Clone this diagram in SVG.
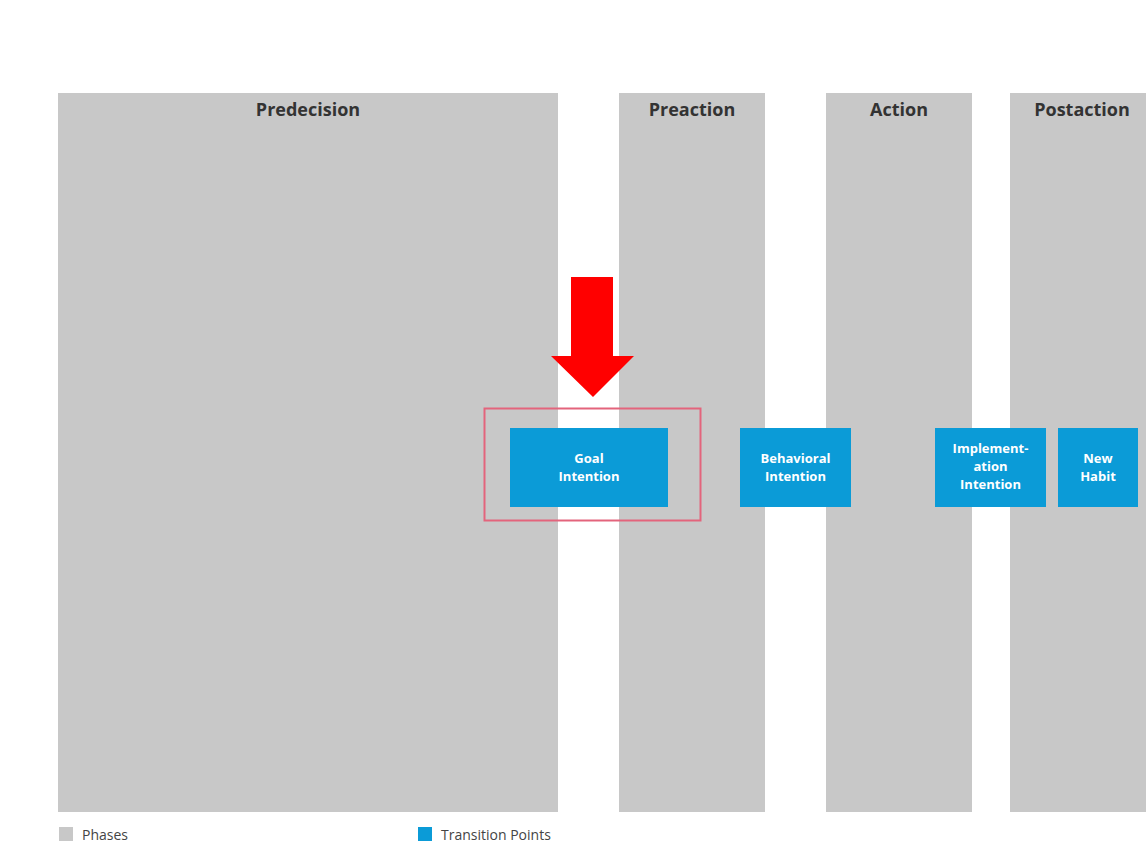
<svg xmlns="http://www.w3.org/2000/svg" width="1146" height="845" viewBox="0 0 1146 845">
<style>
.phase{fill:#c8c8c8}
.ptitle{font-family:"Open Sans","Liberation Sans",sans-serif;font-weight:bold;font-size:18px;fill:#333;text-anchor:middle}
.tp{fill:#0b9bd7}
.tpt{font-family:"Open Sans","Liberation Sans",sans-serif;font-weight:bold;font-size:13px;fill:#fff;text-anchor:middle}
.leg{font-family:"Open Sans","Liberation Sans",sans-serif;font-size:14px;fill:#444}
</style>
<rect width="1146" height="845" fill="#fff"/>
<g id="phase-predecision"><rect class="phase" x="58" y="93" width="500" height="719"/><text class="ptitle" x="308" y="116">Predecision</text></g>
<g id="phase-preaction"><rect class="phase" x="619" y="93" width="146" height="719"/><text class="ptitle" x="692" y="116">Preaction</text></g>
<g id="phase-action"><rect class="phase" x="826" y="93" width="146" height="719"/><text class="ptitle" x="899" y="116">Action</text></g>
<g id="phase-postaction"><rect class="phase" x="1010" y="93" width="146" height="719"/><text class="ptitle" x="1082" y="116">Postaction</text></g>
<g id="tp-goal"><rect class="tp" x="510" y="428" width="158" height="79"/><text class="tpt" x="589" y="463">Goal</text><text class="tpt" x="589" y="481">Intention</text></g>
<g id="tp-behavioral"><rect class="tp" x="740" y="428" width="111" height="79"/><text class="tpt" x="795.5" y="463">Behavioral</text><text class="tpt" x="795.5" y="481">Intention</text></g>
<g id="tp-implementation"><rect class="tp" x="935" y="428" width="111" height="79"/><text class="tpt" x="990.5" y="453">Implement-</text><text class="tpt" x="990.5" y="471">ation</text><text class="tpt" x="990.5" y="489">Intention</text></g>
<g id="tp-newhabit"><rect class="tp" x="1058" y="428" width="80" height="79"/><text class="tpt" x="1098" y="463">New</text><text class="tpt" x="1098" y="481">Habit</text></g>
<g id="connectors">
<rect x="484.5" y="408.5" width="216" height="112" fill="none" stroke="#e3647c" stroke-width="2"/>
<polygon points="571,277 613,277 613,356 634,356 593,397 551,356 571,356" fill="#ff0000"/>
</g>
<g id="legend">
<rect x="59" y="827" width="14" height="14" fill="#c8c8c8"/><text class="leg" x="82" y="840">Phases</text>
<rect x="418" y="827" width="14" height="14" fill="#0b9bd7"/><text class="leg" x="441" y="840">Transition Points</text>
</g>
</svg>
